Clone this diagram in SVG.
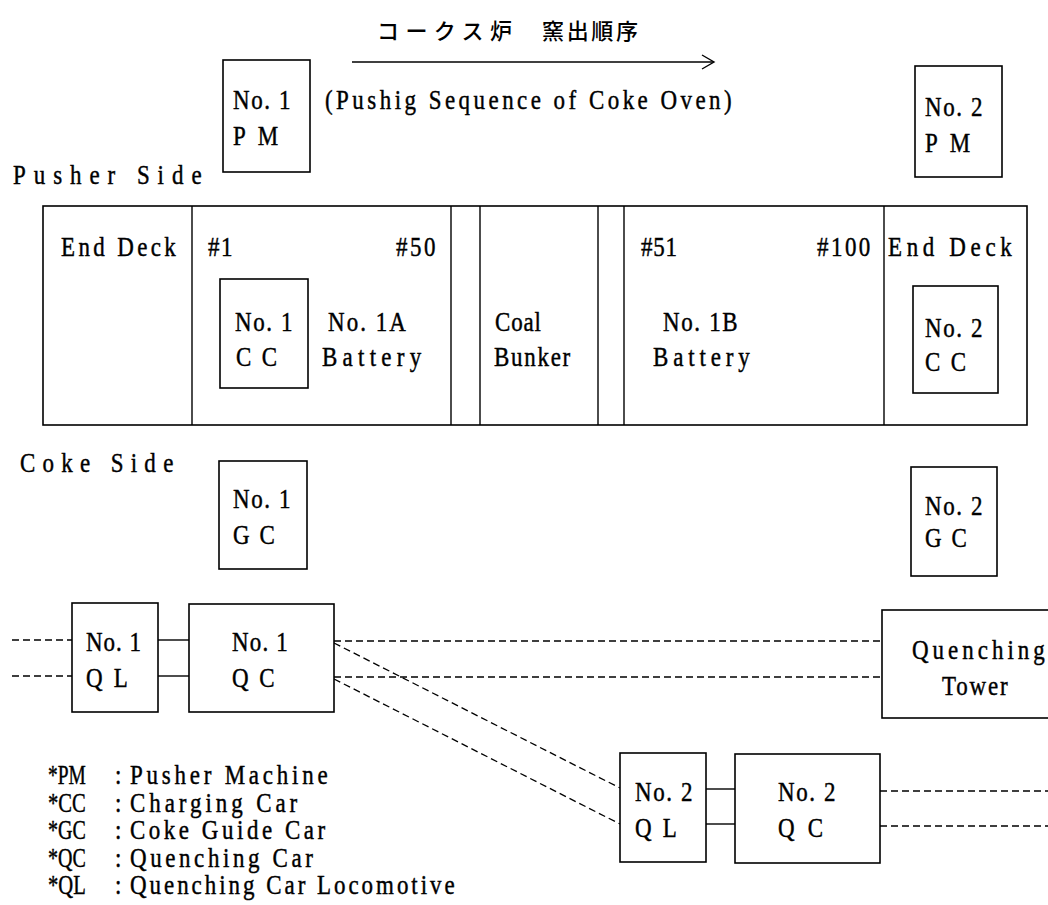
<svg xmlns="http://www.w3.org/2000/svg" width="1048" height="905" viewBox="0 0 1048 905">
<style>
.t{font-family:"Liberation Serif","DejaVu Serif",serif;font-size:28px;fill:#000;stroke:#000;stroke-width:0.45}
.jp{font-family:"Noto Sans CJK JP","Noto Sans CJK SC",sans-serif;font-size:22px;font-weight:500;fill:#000}
.box{fill:#fff;stroke:#000;stroke-width:1.6}
.ln{fill:none;stroke:#000;stroke-width:1.4}
.dash{fill:none;stroke:#000;stroke-width:1.3;stroke-dasharray:7 4}
</style>
<rect width="1048" height="905" fill="#fff"/>

<g id="title">
<text class="jp" x="377" y="39" textLength="135">コークス炉</text>
<text class="jp" x="542" y="39" textLength="96">窯出順序</text>
<line class="ln" x1="352" y1="62" x2="713" y2="62"/>
<polyline class="ln" points="702,55 714,62 702,69"/>
<text class="t" transform="matrix(0.82 0 0 1 325 109)" textLength="496">(Pushig Sequence of Coke Oven)</text>
</g>

<g id="side-labels">
<text class="t" transform="matrix(0.82 0 0 1 13 184)" textLength="230">Pusher Side</text>
<text class="t" transform="matrix(0.82 0 0 1 20 472)" textLength="187">Coke Side</text>
</g>

<g id="pm1">
<rect class="box" x="223" y="60" width="87" height="112"/>
<text class="t" transform="matrix(0.82 0 0 1 233 109)" textLength="70">No. 1</text>
<text class="t" transform="matrix(0.82 0 0 1 233 145)" textLength="55">P M</text>
</g>
<g id="pm2">
<rect class="box" x="915" y="66" width="87" height="111"/>
<text class="t" transform="matrix(0.82 0 0 1 925 116)" textLength="70">No. 2</text>
<text class="t" transform="matrix(0.82 0 0 1 925 152)" textLength="55">P M</text>
</g>

<g id="battery">
<rect class="box" x="43" y="206" width="984" height="219"/>
<line class="ln" x1="192" y1="206" x2="192" y2="425"/>
<line class="ln" x1="451" y1="206" x2="451" y2="425"/>
<line class="ln" x1="480" y1="206" x2="480" y2="425"/>
<line class="ln" x1="598" y1="206" x2="598" y2="425"/>
<line class="ln" x1="624" y1="206" x2="624" y2="425"/>
<line class="ln" x1="884" y1="206" x2="884" y2="425"/>
<text class="t" transform="matrix(0.82 0 0 1 61 256)" textLength="140">End Deck</text>
<text class="t" transform="matrix(0.82 0 0 1 208 256)" textLength="30">#1</text>
<text class="t" transform="matrix(0.82 0 0 1 396 256)" textLength="48">#50</text>
<text class="t" transform="matrix(0.82 0 0 1 328 331)" textLength="95">No. 1A</text>
<text class="t" transform="matrix(0.82 0 0 1 322 366)" textLength="121">Battery</text>
<text class="t" transform="matrix(0.82 0 0 1 495 331)" textLength="56">Coal</text>
<text class="t" transform="matrix(0.82 0 0 1 494 366)" textLength="93">Bunker</text>
<text class="t" transform="matrix(0.82 0 0 1 641 256)" textLength="44">#51</text>
<text class="t" transform="matrix(0.82 0 0 1 817 256)" textLength="65">#100</text>
<text class="t" transform="matrix(0.82 0 0 1 663 331)" textLength="91">No. 1B</text>
<text class="t" transform="matrix(0.82 0 0 1 653 366)" textLength="118">Battery</text>
<text class="t" transform="matrix(0.82 0 0 1 888 256)" textLength="151">End Deck</text>
</g>

<g id="cc1">
<rect class="box" x="220" y="279" width="88" height="109"/>
<text class="t" transform="matrix(0.82 0 0 1 235 331)" textLength="70">No. 1</text>
<text class="t" transform="matrix(0.82 0 0 1 236 366)" textLength="50">C C</text>
</g>
<g id="cc2">
<rect class="box" x="913" y="286" width="85" height="107"/>
<text class="t" transform="matrix(0.82 0 0 1 925 337)" textLength="70">No. 2</text>
<text class="t" transform="matrix(0.82 0 0 1 925 371)" textLength="50">C C</text>
</g>

<g id="gc1">
<rect class="box" x="219" y="461" width="88" height="108"/>
<text class="t" transform="matrix(0.82 0 0 1 233 508)" textLength="70">No. 1</text>
<text class="t" transform="matrix(0.82 0 0 1 233 544)" textLength="51">G C</text>
</g>
<g id="gc2">
<rect class="box" x="911" y="467" width="86" height="109"/>
<text class="t" transform="matrix(0.82 0 0 1 925 515)" textLength="70">No. 2</text>
<text class="t" transform="matrix(0.82 0 0 1 925 547)" textLength="51">G C</text>
</g>

<g id="connectors">
<line class="dash" x1="12" y1="640" x2="72" y2="640"/>
<line class="dash" x1="12" y1="676" x2="72" y2="676"/>
<line class="ln" x1="158" y1="640" x2="189" y2="640"/>
<line class="ln" x1="158" y1="676" x2="189" y2="676"/>
<line class="dash" x1="334" y1="641" x2="882" y2="641"/>
<line class="dash" x1="334" y1="677" x2="882" y2="677"/>
<line class="dash" x1="334" y1="643" x2="620" y2="788"/>
<line class="dash" x1="334" y1="679" x2="620" y2="824"/>
<line class="ln" x1="706" y1="789" x2="735" y2="789"/>
<line class="ln" x1="706" y1="824" x2="735" y2="824"/>
<line class="dash" x1="880" y1="791" x2="1048" y2="791"/>
<line class="dash" x1="880" y1="826" x2="1048" y2="826"/>
</g>

<g id="ql1">
<rect class="box" x="72" y="603" width="86" height="109"/>
<text class="t" transform="matrix(0.82 0 0 1 86 651)" textLength="67">No. 1</text>
<text class="t" transform="matrix(0.82 0 0 1 86 687)" textLength="51">Q L</text>
</g>
<g id="qc1">
<rect class="box" x="189" y="604" width="145" height="108"/>
<text class="t" transform="matrix(0.82 0 0 1 232 651)" textLength="68">No. 1</text>
<text class="t" transform="matrix(0.82 0 0 1 232 687)" textLength="52">Q C</text>
</g>
<g id="tower">
<rect class="box" x="882" y="610" width="170" height="108"/>
<text class="t" transform="matrix(0.82 0 0 1 912 659)" textLength="162">Quenching</text>
<text class="t" transform="matrix(0.82 0 0 1 942 695)" textLength="80">Tower</text>
</g>
<g id="ql2">
<rect class="box" x="620" y="753" width="86" height="109"/>
<text class="t" transform="matrix(0.82 0 0 1 635 801)" textLength="70">No. 2</text>
<text class="t" transform="matrix(0.82 0 0 1 635 837)" textLength="51">Q L</text>
</g>
<g id="qc2">
<rect class="box" x="735" y="754" width="145" height="109"/>
<text class="t" transform="matrix(0.82 0 0 1 778 801)" textLength="70">No. 2</text>
<text class="t" transform="matrix(0.82 0 0 1 778 837)" textLength="55">Q C</text>
</g>

<g id="legend">
<text class="t" transform="matrix(0.82 0 0 1 48 784)" textLength="46" lengthAdjust="spacingAndGlyphs">*PM</text>
<text class="t" transform="matrix(0.82 0 0 1 115 784)">:</text>
<text class="t" transform="matrix(0.82 0 0 1 130 784)" textLength="241">Pusher Machine</text>
<text class="t" transform="matrix(0.82 0 0 1 48 812)" textLength="46" lengthAdjust="spacingAndGlyphs">*CC</text>
<text class="t" transform="matrix(0.82 0 0 1 115 812)">:</text>
<text class="t" transform="matrix(0.82 0 0 1 130 812)" textLength="204">Charging Car</text>
<text class="t" transform="matrix(0.82 0 0 1 48 839)" textLength="46" lengthAdjust="spacingAndGlyphs">*GC</text>
<text class="t" transform="matrix(0.82 0 0 1 115 839)">:</text>
<text class="t" transform="matrix(0.82 0 0 1 130 839)" textLength="238">Coke Guide Car</text>
<text class="t" transform="matrix(0.82 0 0 1 48 867)" textLength="46" lengthAdjust="spacingAndGlyphs">*QC</text>
<text class="t" transform="matrix(0.82 0 0 1 115 867)">:</text>
<text class="t" transform="matrix(0.82 0 0 1 130 867)" textLength="223">Quenching Car</text>
<text class="t" transform="matrix(0.82 0 0 1 48 894)" textLength="46" lengthAdjust="spacingAndGlyphs">*QL</text>
<text class="t" transform="matrix(0.82 0 0 1 115 894)">:</text>
<text class="t" transform="matrix(0.82 0 0 1 130 894)" textLength="396">Quenching Car Locomotive</text>
</g>
</svg>
